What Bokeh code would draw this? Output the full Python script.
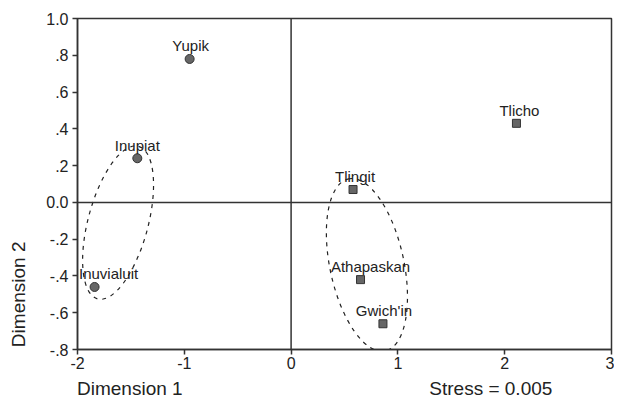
import math
from bokeh.plotting import figure
from bokeh.models import ColumnDataSource, FixedTicker, Span, Range1d, LinearAxis
from bokeh.core.properties import value
from bokeh.embed import file_html
from bokeh.resources import INLINE

# ---- data ----
inuit_names = ["Yupik", "Inupiat", "Inuvialuit"]
inuit_dim1 = [-0.95, -1.44, -1.84]
inuit_dim2 = [0.78, 0.24, -0.46]

other_names = ["Tlingit", "Athapaskan", "Gwich'in", "Tlicho"]
other_dim1 = [0.58, 0.65, 0.86, 2.11]
other_dim2 = [0.07, -0.42, -0.66, 0.43]

cluster_dim1 = [-1.62, 0.71]
cluster_dim2 = [-0.11, -0.34]

x_ticks = [-2, -1, 0, 1, 2, 3]
x_tick_labels = ["-2", "-1", "0", "1", "2", "3"]
y_ticks = [1.0, 0.8, 0.6, 0.4, 0.2, 0.0, -0.2, -0.4, -0.6, -0.8]
y_tick_labels = ["1.0", ".8", ".6", ".4", ".2", "0.0", "-.2", "-.4", "-.6", "-.8"]

x_title = "Dimension 1"
y_title = "Dimension 2"
stress_text = "Stress = 0.005"

# ---- styles / placement ----
FONT = "Liberation Sans"
TXT = "#222222"
AX = "#333333"
inuit_label_dx = [1, 0, 14]
other_label_dx = [2, 10, 1, 3]
cluster_w = [158, 176]
cluster_h = [60, 74]
cluster_angle = [math.radians(75), math.radians(102)]
x_title_pos = -1.51
stress_pos = 1.87
y_title_pos = -0.5

p = figure(width=614, height=404, output_backend="svg", toolbar_location=None,
           x_range=Range1d(-2, 3), y_range=Range1d(-0.8, 1.0),
           min_border_left=77, min_border_right=3, min_border_top=18, min_border_bottom=55)
p.background_fill_color = "white"
p.border_fill_color = "white"
p.outline_line_color = AX
p.outline_line_width = 1.5
p.xgrid.visible = False
p.ygrid.visible = False

for ax, ticks, labels in ((p.xaxis[0], x_ticks, x_tick_labels), (p.yaxis[0], y_ticks, y_tick_labels)):
    ax.ticker = FixedTicker(ticks=ticks)
    ax.major_label_overrides = {t: l for t, l in zip(ticks, labels)}
    ax.major_tick_out = 5
    ax.major_tick_in = 0
    ax.minor_tick_line_color = None
    ax.axis_line_color = AX
    ax.axis_line_width = 1.5
    ax.major_tick_line_color = AX
    ax.major_tick_line_width = 1.5
    ax.major_label_text_font = FONT
    ax.major_label_text_font_size = "16px"
    ax.major_label_text_color = TXT
p.yaxis[0].major_label_standoff = 4
p.xaxis[0].major_label_standoff = 2


def text_axis(ticks, labels, standoff, orientation="horizontal"):
    a = LinearAxis(ticker=FixedTicker(ticks=ticks),
                   major_label_overrides={t: l for t, l in zip(ticks, labels)},
                   axis_line_color=None, major_tick_line_color=None,
                   minor_tick_line_color=None, major_tick_out=0, major_tick_in=0,
                   major_label_standoff=standoff, major_label_orientation=orientation,
                   major_label_text_font=FONT, major_label_text_font_size="19px",
                   major_label_text_color=TXT)
    return a


p.add_layout(text_axis([x_title_pos, stress_pos], [x_title, stress_text], 6), "below")
p.add_layout(text_axis([y_title_pos], [y_title], 14, "vertical"), "left")

p.add_layout(Span(location=0, dimension="height", line_color=AX, line_width=1.5))
p.add_layout(Span(location=0, dimension="width", line_color=AX, line_width=1.5))

# cluster ellipses
csrc = ColumnDataSource(dict(x=cluster_dim1, y=cluster_dim2, w=cluster_w, h=cluster_h, a=cluster_angle))
p.ellipse(x="x", y="y", width="w", height="h", angle="a", source=csrc,
          width_units="screen", height_units="screen",
          fill_color=None, line_color="#222222", line_width=1.2, line_dash="4 5")

isrc = ColumnDataSource(dict(x=inuit_dim1, y=inuit_dim2, name=inuit_names, dx=inuit_label_dx))
osrc = ColumnDataSource(dict(x=other_dim1, y=other_dim2, name=other_names, dx=other_label_dx))

p.scatter(x="x", y="y", source=isrc, marker="circle", size=9,
          fill_color="#666666", line_color="#333333", line_width=1)
p.scatter(x="x", y="y", source=osrc, marker="square", size=8,
          fill_color="#666666", line_color="#333333", line_width=1)

for src in (isrc, osrc):
    p.text(x="x", y="y", text="name", source=src, x_offset="dx", y_offset=-13,
           text_align="center", text_baseline="alphabetic",
           text_font=value(FONT), text_font_size="15px", text_color=TXT)

open("out.html", "w").write(file_html(p, INLINE))
